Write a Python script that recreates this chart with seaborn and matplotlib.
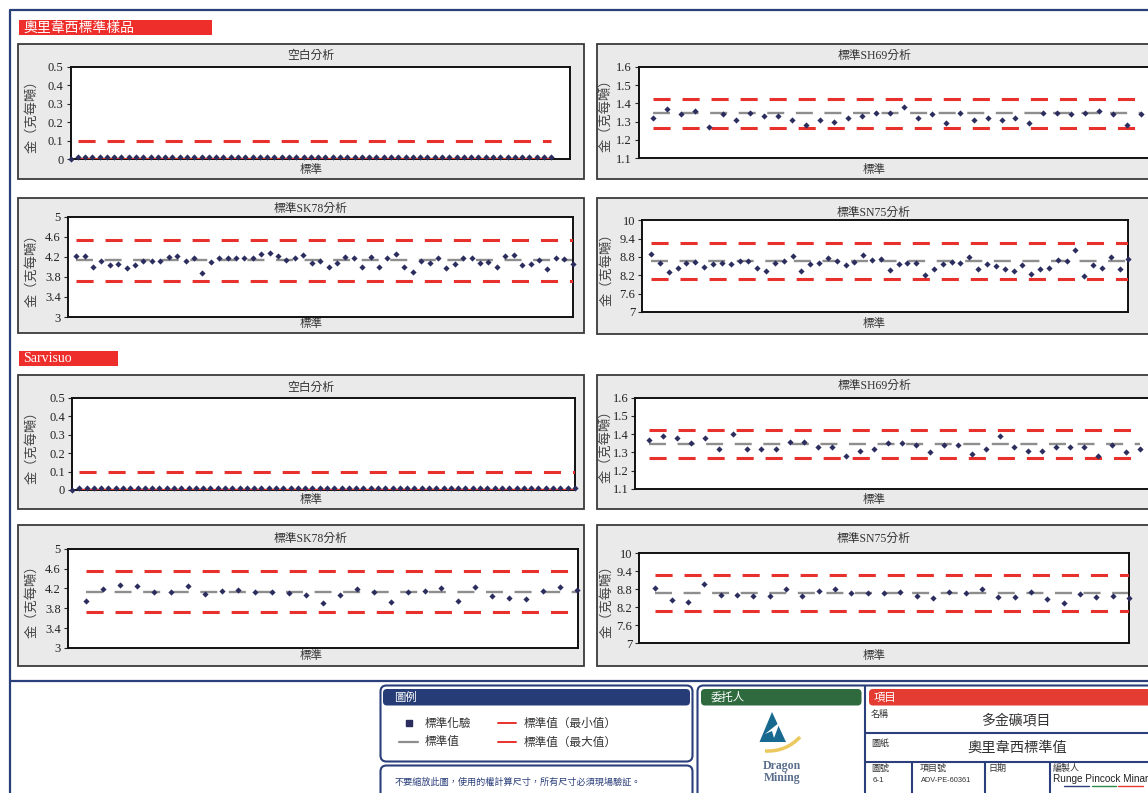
"""
奧里韋西 / Sarvisuo 標準樣品質控圖
"""

import numpy as np
import matplotlib
matplotlib.use("Agg")
import matplotlib.pyplot as plt
from matplotlib.patches import Rectangle, FancyBboxPatch, Polygon, PathPatch
from matplotlib.path import Path
import seaborn as sns

sns.set_style("white")
plt.rcParams["font.family"] = ["Liberation Serif", "Noto Sans CJK TC", "DejaVu Sans"]
plt.rcParams["axes.unicode_minus"] = False

# ───────── 數據 ─────────
SECTION_NAMES = ["奧里韋西標準樣品", "Sarvisuo"]
PANEL_TITLES = ["空白分析", "標準SH69分析", "標準SK78分析", "標準SN75分析"]

BLANK_STD, BLANK_MIN, BLANK_MAX = 0.0, 0.0, 0.1
SH69_STD, SH69_MIN, SH69_MAX = 1.346, 1.268, 1.421
SK78_STD, SK78_MIN, SK78_MAX = 4.13, 3.72, 4.545
SN75_STD, SN75_MIN, SN75_MAX = 8.665, 8.075, 9.265

S1_BLANK = [0.0,
            0.01, 0.01, 0.01, 0.01, 0.01, 0.01, 0.01, 0.01, 0.01, 0.01, 0.01,
            0.01, 0.01, 0.01, 0.01, 0.01, 0.01, 0.01, 0.01, 0.01, 0.01, 0.01,
            0.01, 0.01, 0.01, 0.01, 0.01, 0.01, 0.01, 0.01, 0.01, 0.01, 0.01,
            0.01, 0.01, 0.01, 0.01, 0.01, 0.01, 0.01, 0.01, 0.01, 0.01, 0.01,
            0.01, 0.01, 0.01, 0.01, 0.01, 0.01, 0.01, 0.01, 0.01, 0.01, 0.01,
            0.01, 0.01, 0.01, 0.01, 0.01, 0.01, 0.01, 0.01, 0.01, 0.01, 0.01]
S1_SH69 = [1.32, 1.37, 1.34, 1.36, 1.27, 1.34, 1.31, 1.35, 1.33, 1.33, 1.31, 1.28,
           1.31, 1.30, 1.32, 1.33, 1.35, 1.35, 1.38, 1.32, 1.34, 1.29, 1.35, 1.31,
           1.32, 1.31, 1.32, 1.29, 1.35, 1.35, 1.34, 1.35, 1.36, 1.34, 1.28, 1.34]
S1_SK78 = [4.21, 4.21, 3.99, 4.12, 4.04, 4.06, 3.98, 4.03, 4.12, 4.12, 4.12, 4.19,
           4.22, 4.12, 4.17, 3.87, 4.09, 4.17, 4.17, 4.18, 4.18, 4.18, 4.26, 4.27,
           4.22, 4.14, 4.17, 4.24, 4.08, 4.11, 4.00, 4.08, 4.19, 4.18, 3.99, 4.19,
           3.99, 4.17, 4.26, 3.99, 3.90, 4.12, 4.08, 4.18, 3.97, 4.06, 4.18, 4.18,
           4.07, 4.09, 3.99, 4.21, 4.23, 4.03, 4.05, 4.14, 3.96, 4.18, 4.16, 4.06]
S1_SN75 = [8.91, 8.59, 8.32, 8.43, 8.61, 8.65, 8.48, 8.57, 8.59, 8.57, 8.67, 8.66,
           8.45, 8.35, 8.60, 8.68, 8.82, 8.35, 8.57, 8.60, 8.76, 8.66, 8.55, 8.63,
           8.87, 8.69, 8.75, 8.39, 8.58, 8.59, 8.60, 8.22, 8.42, 8.58, 8.65, 8.60,
           8.79, 8.41, 8.57, 8.52, 8.41, 8.34, 8.53, 8.24, 8.41, 8.43, 8.71, 8.66,
           9.02, 8.18, 8.54, 8.44, 8.79, 8.40, 8.75]

S2_BLANK = [0.0,
            0.01, 0.01, 0.01, 0.01, 0.01, 0.01, 0.01, 0.01, 0.01, 0.01, 0.01,
            0.01, 0.01, 0.01, 0.01, 0.01, 0.01, 0.01, 0.01, 0.01, 0.01, 0.01,
            0.01, 0.01, 0.01, 0.01, 0.01, 0.01, 0.01, 0.01, 0.01, 0.01, 0.01,
            0.01, 0.01, 0.01, 0.01, 0.01, 0.01, 0.01, 0.01, 0.01, 0.01, 0.01,
            0.01, 0.01, 0.01, 0.01, 0.01, 0.01, 0.01, 0.01, 0.01, 0.01, 0.01,
            0.01, 0.01, 0.01, 0.01, 0.01, 0.01, 0.01, 0.01, 0.01, 0.01, 0.01,
            0.01, 0.01, 0.01]
S2_SH69 = [1.37, 1.39, 1.38, 1.35, 1.38, 1.32, 1.40, 1.32, 1.32, 1.32, 1.36, 1.36,
           1.33, 1.33, 1.28, 1.31, 1.32, 1.35, 1.35, 1.34, 1.30, 1.34, 1.34, 1.29,
           1.32, 1.39, 1.33, 1.31, 1.31, 1.33, 1.33, 1.33, 1.28, 1.34, 1.30, 1.32]
S2_SK78 = [3.95, 4.18, 4.27, 4.24, 4.12, 4.12, 4.24, 4.08, 4.15, 4.17, 4.13, 4.13,
           4.10, 4.07, 3.91, 4.07, 4.18, 4.13, 3.92, 4.12, 4.15, 4.20, 3.95, 4.22,
           4.05, 4.01, 3.99, 4.14, 4.22, 4.16]
S2_SN75 = [8.83, 8.44, 8.37, 8.99, 8.60, 8.60, 8.59, 8.59, 8.80, 8.57, 8.74, 8.80,
           8.67, 8.67, 8.67, 8.72, 8.59, 8.51, 8.70, 8.68, 8.82, 8.56, 8.56, 8.72,
           8.47, 8.33, 8.63, 8.56, 8.57, 8.52]

LEGEND_LABELS = ["標準化驗", "標準值", "標準值（最小值）", "標準值（最大值）"]

# ───────── 樣式 ─────────
W, H = 1148, 793
NAVY = "#2B2D5E"
GREY = "#8E8E8E"
RED = "#E8312C"
FRAME = "#2B3F7B"
PANEL_BG = "#EAEAEA"
CJK = ["Noto Sans CJK TC", "DejaVu Sans"]


def rect(x0, y0, x1, y1):
    return [x0 / W, 1 - y1 / H, (x1 - x0) / W, (y1 - y0) / H]


fig = plt.figure(figsize=(W / 100, H / 100), dpi=100)
bg = fig.add_axes([0, 0, 1, 1])
bg.set_xlim(0, W)
bg.set_ylim(H, 0)
bg.axis("off")


def draw_panel(box, plot, title_xy, title, vals, std, lo, hi, ylim, yticks, x0, xlim,
               lo_solid=False, ylab_dx=14):
    bx0, by0, bx1, by1 = box
    bg.add_patch(Rectangle((bx0, by0), bx1 - bx0, by1 - by0, facecolor=PANEL_BG,
                           edgecolor="#3A3A3A", lw=1.3))
    px0, py0, px1, py1 = plot
    tx, ty = title_xy
    bg.text(tx, ty, title, ha="center", va="center", fontsize=8.5, color="#333333")
    bg.text(tx, by1 - 10, "標準", ha="center", va="center", fontsize=8.3, color="#333333",
            family=CJK)
    bg.text(bx0 + ylab_dx, (py0 + py1) / 2, "金（克每噸）", rotation=90, ha="center", va="center",
            fontsize=9.5, color="#444444", family=CJK)

    ax = fig.add_axes(rect(px0, py0, px1, py1))
    ax.set_facecolor("white")
    x = np.arange(x0, x0 + len(vals))
    xl = x[x >= 1]
    dash_r = (0, (5.6, 3.9))
    sns.lineplot(x=xl, y=np.full(len(xl), std), color=GREY, lw=1.7,
                 linestyle=(0, (7.2, 4.9)), ax=ax, zorder=2)
    sns.lineplot(x=xl, y=np.full(len(xl), hi), color=RED, lw=2.2, linestyle=dash_r, ax=ax, zorder=3)
    sns.lineplot(x=xl, y=np.full(len(xl), lo), color=RED, lw=2.2,
                 linestyle="-" if lo_solid else dash_r, ax=ax, zorder=3)
    sns.scatterplot(x=x, y=vals, marker="D", s=10, color=NAVY, edgecolor=NAVY,
                    linewidth=0, ax=ax, zorder=5, clip_on=False)
    ax.set_xlim(*xlim)
    ax.set_ylim(*ylim)
    ax.set_yticks(yticks)
    ax.set_yticklabels([f"{v:g}" for v in yticks], fontsize=9, color="#222222",
                       family="Liberation Serif")
    ax.set_xticks([])
    ax.set_xlabel("")
    ax.set_ylabel("")
    ax.tick_params(axis="y", direction="out", length=3, width=0.8, pad=2, left=True)
    for sp in ax.spines.values():
        sp.set_visible(True)
        sp.set_color("#111111")
        sp.set_linewidth(1.4)
    return ax


# ───────── 外框 ─────────
bg.plot([10, 10, W + 5], [H + 5, 10, 10], color=FRAME, lw=1.6)
bg.plot([10, W + 5], [681, 681], color=FRAME, lw=1.6)

# 分區標題
bg.add_patch(Rectangle((19, 20), 193, 15, facecolor="#EE2E2B", edgecolor="none"))
bg.text(23, 27.5, SECTION_NAMES[0], ha="left", va="center", fontsize=10, color="white", family=CJK)
bg.add_patch(Rectangle((19, 351), 99, 14.5, facecolor="#EE2E2B", edgecolor="none"))
bg.text(23, 358.5, SECTION_NAMES[1], ha="left", va="center", fontsize=10, color="white")

T_BLANK = [0, 0.1, 0.2, 0.3, 0.4, 0.5]
T_SH69 = [1.1, 1.2, 1.3, 1.4, 1.5, 1.6]
T_SK78 = [3, 3.4, 3.8, 4.2, 4.6, 5]
T_SN75 = [7, 7.6, 8.2, 8.8, 9.4, 10]

# 第一區
draw_panel((18, 44, 584, 179), (70.5, 66.7, 569.5, 159.3), (311, 56), PANEL_TITLES[0],
           S1_BLANK, BLANK_STD, BLANK_MIN, BLANK_MAX, (0, 0.5), T_BLANK, 0, (0, 68.5), lo_solid=True)
draw_panel((597, 44, 1156, 179), (638.8, 66.7, 1160, 158.3), (874, 55.7), PANEL_TITLES[1],
           S1_SH69, SH69_STD, SH69_MIN, SH69_MAX, (1.1, 1.6), T_SH69, 1, (0, 37.36), ylab_dx=9)
draw_panel((18, 198, 584, 333), (67.7, 216.7, 573, 317), (311, 209), PANEL_TITLES[2],
           S1_SK78, SK78_STD, SK78_MIN, SK78_MAX, (3, 5), T_SK78, 1, (0, 60.05))
draw_panel((597, 198, 1156, 334), (642.3, 220.3, 1128.4, 312), (874, 213), PANEL_TITLES[3],
           S1_SN75, SN75_STD, SN75_MIN, SN75_MAX, (7, 10), T_SN75, 1, (0, 55), ylab_dx=10)

# 第二區
draw_panel((18, 375, 584, 509), (72, 397.7, 574.8, 490), (311, 388), PANEL_TITLES[0],
           S2_BLANK, BLANK_STD, BLANK_MIN, BLANK_MAX, (0, 0.5), T_BLANK, 0, (0, 69), lo_solid=True)
draw_panel((597, 375, 1156, 509), (635.2, 397.7, 1160, 489), (874, 386), PANEL_TITLES[1],
           S2_SH69, SH69_STD, SH69_MIN, SH69_MAX, (1.1, 1.6), T_SH69, 1, (0, 37.4), ylab_dx=9)
draw_panel((18, 525, 584, 666), (67.7, 548.7, 577.5, 648), (311, 539), PANEL_TITLES[2],
           S2_SK78, SK78_STD, SK78_MIN, SK78_MAX, (3, 5), T_SK78, 1, (-0.09, 30.04))
draw_panel((597, 525, 1156, 666), (639, 553.3, 1129, 643.3), (874, 539), PANEL_TITLES[3],
           S2_SN75, SN75_STD, SN75_MIN, SN75_MAX, (7, 10), T_SN75, 1, (0, 30), ylab_dx=10)

# ───────── 圖例 ─────────
def rbox(x0, y0, x1, y1, fc="white", ec=FRAME, lw=1.5, r=6, z=1):
    bg.add_patch(FancyBboxPatch((x0, y0), x1 - x0, y1 - y0,
                                boxstyle=f"round,pad=0,rounding_size={r}",
                                facecolor=fc, edgecolor=ec, lw=lw, zorder=z))


rbox(380.5, 685.5, 692.5, 761.5)
rbox(383, 689, 690, 705.5, fc="#263C76", ec="none", r=4, z=2)
bg.text(394, 697.5, "圖例", ha="left", va="center", fontsize=8.2, color="white", family=CJK, zorder=3)
bg.scatter([409], [722.7], marker="s", s=14, color=NAVY, zorder=3)
bg.plot([399, 418], [741.7, 741.7], color=GREY, lw=1.6, zorder=3)
bg.plot([498, 516], [722.7, 722.7], color=RED, lw=1.4, zorder=3)
bg.plot([498, 516], [741.7, 741.7], color=RED, lw=1.4, zorder=3)
bg.text(425, 723, LEGEND_LABELS[0], ha="left", va="center", fontsize=8.4, color="#333333", family=CJK, zorder=3)
bg.text(425, 742, LEGEND_LABELS[1], ha="left", va="center", fontsize=8.4, color="#333333", family=CJK, zorder=3)
bg.text(524, 723, LEGEND_LABELS[2], ha="left", va="center", fontsize=8.4, color="#333333", family=CJK, zorder=3)
bg.text(524, 742, LEGEND_LABELS[3], ha="left", va="center", fontsize=8.4, color="#333333", family=CJK, zorder=3)

rbox(380.5, 765.5, 692.5, 805)
bg.text(395, 782, "不要縮放此圖，使用的權計算尺寸，所有尺寸必須現場驗証。", ha="left", va="center",
        fontsize=6.6, color=FRAME, family=CJK, zorder=3)

# ───────── 委托人 ─────────
rbox(697.5, 685.5, 1180, 805)
rbox(701, 689, 861.5, 705.5, fc="#2E6A3E", ec="none", r=4, z=2)
bg.text(711, 697.5, "委托人", ha="left", va="center", fontsize=8.2, color="white", family=CJK, zorder=3)
bg.add_patch(Polygon([(772, 712), (759.5, 742), (786, 742)], closed=True,
                     facecolor="#17698F", edgecolor="none", zorder=3))
bg.add_patch(Polygon([(765, 734), (780, 722), (774, 738), (772, 731)], closed=True,
                     facecolor="white", edgecolor="none", zorder=4))
bg.add_patch(PathPatch(Path([(765, 751), (786, 752), (800, 737)],
                            [Path.MOVETO, Path.CURVE3, Path.CURVE3]),
                       facecolor="none", edgecolor="#EBC95F", lw=2.5, zorder=3))
bg.text(782, 766, "Dragon", ha="center", va="center", fontsize=8.5, color="#5A6E8C",
        fontweight="bold", zorder=3)
bg.text(782, 778.5, "Mining", ha="center", va="center", fontsize=8.5, color="#5A6E8C",
        fontweight="bold", zorder=3)

# ───────── 項目 ─────────
bg.plot([864.5, 864.5], [685.5, H + 5], color=FRAME, lw=1.5, zorder=3)
rbox(869, 689, 1180, 705.5, fc="#E43B32", ec="none", r=4, z=2)
bg.text(874, 697.5, "項目", ha="left", va="center", fontsize=8.2, color="white", family=CJK, zorder=3)
bg.plot([864.5, W + 5], [732.5, 732.5], color=FRAME, lw=1.5, zorder=3)
bg.plot([864.5, W + 5], [761.7, 761.7], color=FRAME, lw=1.5, zorder=3)
for xv in [912.3, 985, 1050]:
    bg.plot([xv, xv], [761.7, H + 5], color=FRAME, lw=1.5, zorder=3)

small = dict(ha="left", va="center", fontsize=6.5, color="#333333", family=CJK, zorder=3)
bg.text(871, 714.5, "名稱", **small)
bg.text(1016, 720.5, "多金礦項目", ha="center", va="center", fontsize=10, color="#333333", family=CJK, zorder=3)
bg.text(871, 743, "圖紙", **small)
bg.text(1017, 747.5, "奧里韋西標準值", ha="center", va="center", fontsize=10.3, color="#333333", family=CJK, zorder=3)
bg.text(871, 768.5, "圖號", **small)
bg.text(920, 768.5, "項目號", **small)
bg.text(988, 768.5, "日期", **small)
bg.text(1053, 768.5, "編製人", **small)
bg.text(873, 781, "6-1", ha="left", va="center", fontsize=5.8, color="#333333",
        family="Liberation Sans", zorder=3)
bg.text(921, 781, "ADV-PE-60361", ha="left", va="center", fontsize=5.3, color="#333333",
        family="Liberation Sans", zorder=3)
bg.text(1053, 779, "Runge Pincock Minarco", ha="left", va="center", fontsize=7.2, color="#222222",
        family="Liberation Sans", zorder=3)
bg.plot([1064, 1089], [786, 786], color="#2B3F7B", lw=1, zorder=3)
bg.plot([1092, 1116], [786, 786], color="#2E8B4A", lw=1, zorder=3)
bg.plot([1118, 1143], [786, 786], color="#E43B32", lw=1, zorder=3)

fig.savefig("out.png", dpi=100)
plt.close(fig)
